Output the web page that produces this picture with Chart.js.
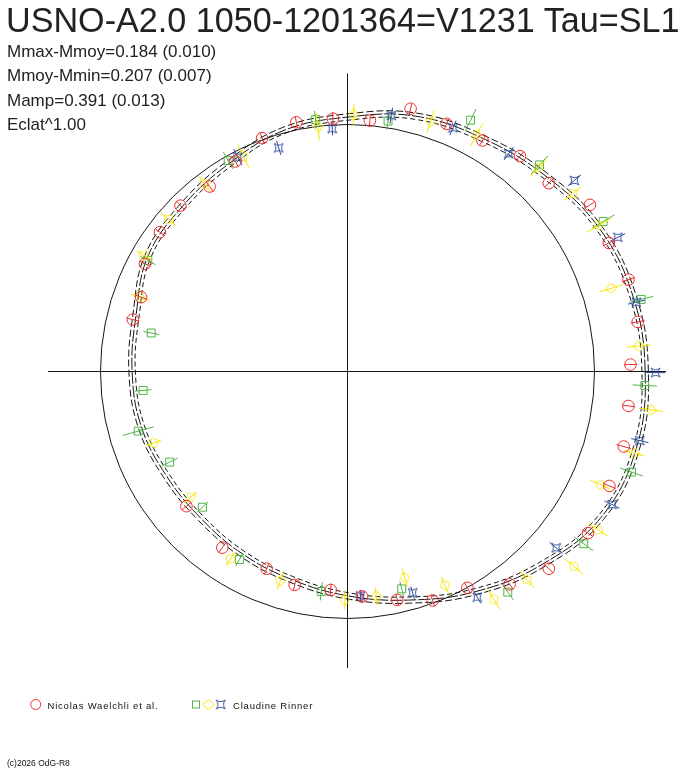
<!DOCTYPE html>
<html>
<head>
<meta charset="utf-8">
<script src="https://cdn.jsdelivr.net/npm/chart.js@4/dist/chart.umd.min.js"></script>
<style>
html,body{margin:0;padding:0;background:#fff;}
#wrap{position:relative;width:688px;height:768px;overflow:hidden;background:#fff;}
#c{position:absolute;left:0;top:0;}
.t{position:absolute;white-space:nowrap;font-family:"Liberation Sans",Arial,sans-serif;line-height:1;color:#222;}
.s{font-size:17px;left:7px;}
.lg{font-size:9.5px;letter-spacing:0.8px;top:701px;color:#111;}
</style>
</head>
<body>
<div id="wrap">
<canvas id="c" width="688" height="768"></canvas>
<div class="t" style="left:6px;top:3px;font-size:35.5px;transform:scaleX(0.962);transform-origin:0 0;">USNO-A2.0 1050-1201364=V1231 Tau=SL1</div>
<div class="t s" style="top:42.5px;">Mmax-Mmoy=0.184 (0.010)</div>
<div class="t s" style="top:67px;">Mmoy-Mmin=0.207 (0.007)</div>
<div class="t s" style="top:91.5px;">Mamp=0.391 (0.013)</div>
<div class="t s" style="top:116px;">Eclat^1.00</div>
<div class="t lg" style="left:47.5px;">Nicolas Waelchli et al.</div>
<div class="t lg" style="left:233px;">Claudine Rinner</div>
<div class="t" style="left:7px;top:759px;font-size:8.5px;color:#111;">(c)2026 OdG-R8</div>
</div>
<script>
// ---------------- DATA (phase angle in degrees, radius relative to reference circle) ----------------
const SERIES_NAMES = ["Nicolas Waelchli et al.", "Claudine Rinner"];

// Fitted light curve (mean), sampled every 15 degrees
const CURVE_DEG = [0,15,30,45,60,75,90,105,120,135,150,165,180,195,210,225,240,255,270,285,300,315,330,345];
const CURVE_R   = [1.205,1.195,1.172,1.126,1.091,1.070,1.030,1.009,0.968,0.945,0.933,0.886,0.872,0.864,0.846,0.840,0.852,0.872,0.908,0.958,1.030,1.108,1.184,1.210];
const CURVE_SIGMA = 0.013;

// Nicolas Waelchli et al. (red circles)
const RED_DEG = [126.7,110.1,118.1,101.6,93.3,84.9,76.5,68.2,59.7,51.3,43.1,34.5,26.2,18.1,9.7,1.4,353.0,344.8,336.4,326.1,315.6,307.3,299.0,290.4,282.3,273.7,265.6,256.1,247.7,234.6,219.9,166.4,160.2,152.0,143.4,135.2];
const RED_R   = [0.934,1.006,0.964,1.030,1.025,1.020,1.094,1.080,1.083,1.117,1.116,1.191,1.179,1.197,1.192,1.146,1.146,1.159,1.157,1.173,1.141,1.083,1.001,0.989,0.946,0.913,0.887,0.890,0.863,0.875,0.850,0.894,0.888,0.929,0.946,0.953];
const RED_ERR = [0.024,0.024,0.024,0.024,0.026,0.024,0.023,0.024,0.025,0.025,0.024,0.026,0.026,0.027,0.028,0.024,0.025,0.030,0.028,0.025,0.025,0.026,0.024,0.024,0.024,0.024,0.025,0.024,0.024,0.025,0.024,0.027,0.026,0.024,0.024,0.024];

// Claudine Rinner (green squares)
const GRN_DEG = [168.9,185.3,195.9,207.0,223.1,240.1,263.2,284.0,306.0,323.9,340.5,357.3,13.8,30.4,47.1,63.9,80.8,97.2,119.5,150.9];
const GRN_R   = [0.810,0.831,0.881,0.808,0.804,0.878,0.897,0.907,1.104,1.184,1.220,1.205,1.224,1.200,1.142,1.133,1.027,1.028,0.981,0.925];
const GRN_ERR = [0.032,0.034,0.065,0.036,0.032,0.030,0.037,0.030,0.039,0.047,0.049,0.049,0.050,0.053,0.049,0.050,0.035,0.036,0.039,0.036];

// Claudine Rinner (yellow diamonds)
const YEL_DEG = [127.3,115.8,96.9,88.6,71.6,61.4,46.9,38.3,30.2,17.5,5.0,352.8,344.1,335.9,327.7,319.3,310.8,302.7,294.5,285.5,277.3,269.3,252.2,238.0,218.7,200.2,160.3,150.3,139.6];
const YEL_R   = [0.955,0.969,0.999,1.041,1.066,1.091,1.130,1.162,1.177,1.120,1.184,1.239,1.208,1.122,1.200,1.209,1.114,1.096,0.951,0.867,0.918,0.924,0.889,0.894,0.814,0.836,0.893,0.949,0.950];
const YEL_ERR = [0.040,0.053,0.056,0.042,0.047,0.053,0.049,0.045,0.058,0.049,0.049,0.049,0.043,0.044,0.048,0.050,0.045,0.047,0.038,0.038,0.037,0.038,0.038,0.033,0.032,0.033,0.038,0.034,0.041];

// Claudine Rinner (blue stars)
const BLU_DEG = [117.1,107.1,93.6,80.3,66.6,53.5,40.1,26.4,13.5,359.8,346.7,333.3,319.8,299.9,286.4,273.3];
const BLU_R   = [0.975,0.947,0.985,1.051,1.075,1.097,1.201,1.222,1.203,1.247,1.216,1.199,1.106,1.054,0.934,0.910];
const BLU_ERR = [0.037,0.030,0.027,0.033,0.032,0.032,0.035,0.033,0.035,0.040,0.036,0.034,0.035,0.030,0.026,0.025];

// Axis cross extents (data units)
const AXIS_X = [-1.2126, 1.2895];
const AXIS_Y = [-1.2004, 1.2065];

// ---------------- LAYOUT / STYLE ----------------
const W = 688, H = 768, CX = 347.5, CY = 371.5, PX_PER_UNIT = 247;
const COL = {red:'#ee2b2b', green:'#4fb548', yellow:'#f7e600', blue:'#2f4d9e', ink:'#151515'};

function polar(deg, r){ const a = deg*Math.PI/180; return {x: r*Math.cos(a), y: r*Math.sin(a)}; }
function pts(degs, rs){ return degs.map((d,i)=>polar(d, rs[i])); }
function curvePts(off){
  const n = CURVE_DEG.length;
  const p = CURVE_DEG.map((d,i)=>polar(d, CURVE_R[i]+off));
  // wrap-around padding so the spline closes smoothly
  return [p[n-1]].concat(p, [p[0], p[1]]);
}
const HIDE_LAST = CURVE_DEG.length + 1;
function curveSegment(){
  return { borderColor: c => (c.p0DataIndex === 0 || c.p0DataIndex === HIDE_LAST) ? 'rgba(0,0,0,0)' : undefined };
}

// marker images
function makeDiamond(){
  const c = document.createElement('canvas'); c.width = 13; c.height = 11;
  const g = c.getContext('2d'); g.strokeStyle = COL.yellow; g.lineWidth = 1;
  g.beginPath(); g.moveTo(0.5,5.5); g.lineTo(6.5,0.5); g.lineTo(12.5,5.5); g.lineTo(6.5,10.5); g.closePath(); g.stroke();
  return c;
}
function makeStar(){
  const c = document.createElement('canvas'); c.width = 11; c.height = 11;
  const g = c.getContext('2d'); g.strokeStyle = COL.blue; g.lineWidth = 1;
  const m = 5.5, k = 4.5, b = 1.2;
  g.beginPath();
  g.moveTo(m-k, m-k);
  g.quadraticCurveTo(m, m-b, m+k, m-k);
  g.quadraticCurveTo(m+b, m, m+k, m+k);
  g.quadraticCurveTo(m, m+b, m-k, m+k);
  g.quadraticCurveTo(m-b, m, m-k, m-k);
  g.closePath(); g.stroke();
  return c;
}
const DIAMOND = makeDiamond(), STAR = makeStar();

const ERRS = {red:[RED_DEG,RED_R,RED_ERR], green:[GRN_DEG,GRN_R,GRN_ERR], yellow:[YEL_DEG,YEL_R,YEL_ERR], blue:[BLU_DEG,BLU_R,BLU_ERR]};

const decor = {
  id: 'decor',
  beforeDatasetsDraw(chart){
    const ctx = chart.ctx, sx = chart.scales.x, sy = chart.scales.y;
    const cx = sx.getPixelForValue(0), cy = sy.getPixelForValue(0);
    const rr = sx.getPixelForValue(1) - cx;
    ctx.save();
    ctx.strokeStyle = COL.ink; ctx.lineWidth = 1;
    ctx.beginPath(); ctx.arc(cx, cy, rr, 0, Math.PI*2); ctx.stroke();
    ctx.beginPath();
    ctx.moveTo(sx.getPixelForValue(AXIS_X[0]), cy); ctx.lineTo(sx.getPixelForValue(AXIS_X[1]), cy);
    ctx.moveTo(cx, sy.getPixelForValue(AXIS_Y[1])); ctx.lineTo(cx, sy.getPixelForValue(AXIS_Y[0]));
    ctx.stroke();
    ctx.restore();
  },
  beforeDatasetDraw(chart, args){
    const ds = chart.data.datasets[args.index];
    const e = ERRS[ds.key];
    if (!e) return;
    const [degs, rs, errs] = e;
    const ctx = chart.ctx, sx = chart.scales.x, sy = chart.scales.y;
    ctx.save();
    ctx.strokeStyle = COL[ds.key]; ctx.lineWidth = 1;
    ctx.beginPath();
    degs.forEach((d,i)=>{
      const a = polar(d, rs[i]-errs[i]), b = polar(d, rs[i]+errs[i]);
      ctx.moveTo(sx.getPixelForValue(a.x), sy.getPixelForValue(a.y));
      ctx.lineTo(sx.getPixelForValue(b.x), sy.getPixelForValue(b.y));
    });
    ctx.stroke();
    ctx.restore();
  },
  afterDraw(chart){
    // legend symbols
    const ctx = chart.ctx;
    ctx.save(); ctx.lineWidth = 1;
    ctx.strokeStyle = COL.red; ctx.beginPath(); ctx.arc(35.7, 704.5, 5, 0, Math.PI*2); ctx.stroke();
    ctx.strokeStyle = COL.green; ctx.strokeRect(192.5, 701, 7, 7);
    ctx.drawImage(DIAMOND, 208.5-6.5, 704.5-5.5);
    ctx.drawImage(STAR, 220.7-5.5, 704.5-5.5);
    ctx.restore();
  }
};

const curveCommon = {type:'scatter', showLine:true, pointRadius:0, borderColor:COL.ink, borderWidth:1, tension:0.4, fill:false, order:10, segment:curveSegment()};

new Chart(document.getElementById('c'), {
  type: 'scatter',
  data: {
    datasets: [
      Object.assign({label:'fit+', data:curvePts(CURVE_SIGMA), borderDash:[7,3]}, curveCommon),
      Object.assign({label:'fit', data:curvePts(0), borderDash:[12,2]}, curveCommon),
      Object.assign({label:'fit-', data:curvePts(-CURVE_SIGMA), borderDash:[5,3]}, curveCommon),
      {key:'green', label:SERIES_NAMES[1], data:pts(GRN_DEG,GRN_R), pointStyle:'rect', pointRadius:5.6, borderColor:COL.green, backgroundColor:'rgba(0,0,0,0)', borderWidth:1, order:4},
      {key:'yellow', label:SERIES_NAMES[1], data:pts(YEL_DEG,YEL_R), pointStyle:DIAMOND, pointRotation:YEL_DEG.map(d=>-d), pointRadius:6, borderColor:COL.yellow, backgroundColor:'rgba(0,0,0,0)', order:3},
      {key:'blue', label:SERIES_NAMES[1], data:pts(BLU_DEG,BLU_R), pointStyle:STAR, pointRadius:5, borderColor:COL.blue, backgroundColor:'rgba(0,0,0,0)', order:2},
      {key:'red', label:SERIES_NAMES[0], data:pts(RED_DEG,RED_R), pointStyle:'circle', pointRadius:5.8, borderColor:COL.red, backgroundColor:'rgba(0,0,0,0)', borderWidth:1, order:1}
    ]
  },
  options: {
    responsive:false, animation:false, events:[],
    layout:{padding:0, autoPadding:false},
    scales:{
      x:{type:'linear', display:false, min:-CX/PX_PER_UNIT, max:(W-CX)/PX_PER_UNIT},
      y:{type:'linear', display:false, min:-(H-CY)/PX_PER_UNIT, max:CY/PX_PER_UNIT}
    },
    plugins:{legend:{display:false}, title:{display:false}, tooltip:{enabled:false}},
    elements:{point:{hoverRadius:0}}
  },
  plugins:[decor]
});
</script>
</body>
</html>
